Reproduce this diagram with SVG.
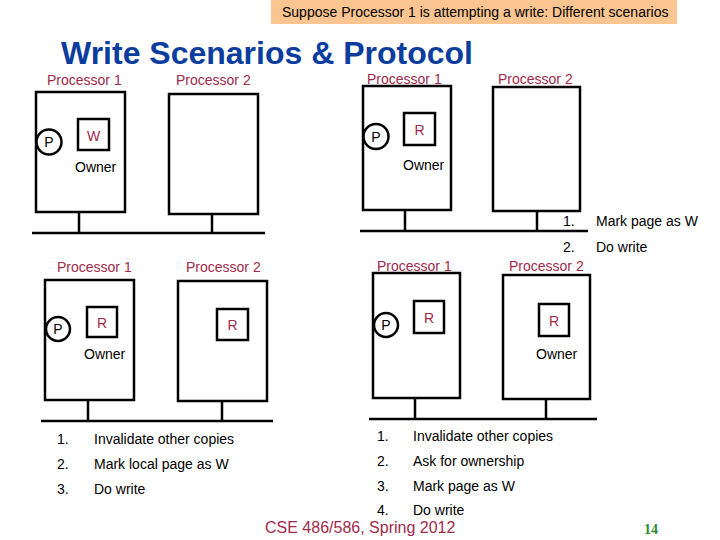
<svg xmlns="http://www.w3.org/2000/svg" width="720" height="540" viewBox="0 0 720 540">
<style>
text{font-family:"Liberation Sans",Arial,sans-serif;font-size:14px;fill:#000}
.lbl{fill:#A02A4C}
.pg{fill:#A02A4C;text-anchor:middle}
.pc{text-anchor:middle}
.box{fill:#fff;stroke:#000;stroke-width:2.5}
.cir{fill:#fff;stroke:#000;stroke-width:2.5}
.ln{stroke:#000;stroke-width:2.5;fill:none}
</style>
<rect width="720" height="540" fill="#fff"/>
<g id="banner">
<rect x="271" y="0" width="406" height="24" fill="#FAC591"/>
<text x="282" y="17">Suppose Processor 1 is attempting a write: Different scenarios</text>
</g>
<text x="61" y="64" style="font-size:32px;font-weight:bold;fill:#0B3D9E">Write Scenarios &amp; Protocol</text>

<g id="connectors">
<path class="ln" d="M79 212V233M212 214V233M32 233H265"/>
<path class="ln" d="M405 210V231M537 211V231M360 231H588"/>
<path class="ln" d="M88 400V421M222 401V421M41 421H273"/>
<path class="ln" d="M415 398V419M546 399V419M369 419H597"/>
</g>

<!-- Scenario 1 -->
<g id="s1-proc1">
<text class="lbl" x="47" y="85">Processor 1</text>
<rect class="box" x="36" y="92" width="89" height="120"/>
<text x="75" y="172">Owner</text>
</g>
<g id="s1-page1">
<rect class="box" x="78" y="119" width="31" height="31"/>
<text class="pg" x="93.5" y="141">W</text>
</g>
<g id="s1-p">
<circle class="cir" cx="49" cy="142" r="12.5"/>
<text class="pc" x="49" y="147">P</text>
</g>
<g id="s1-proc2">
<text class="lbl" x="176" y="85">Processor 2</text>
<rect class="box" x="169" y="94" width="89" height="120"/>
</g>

<!-- Scenario 2 -->
<g id="s2-proc1">
<text class="lbl" x="367" y="84">Processor 1</text>
<rect class="box" x="363" y="86" width="88" height="124"/>
<text x="403" y="170">Owner</text>
</g>
<g id="s2-page1">
<rect class="box" x="404" y="113" width="31" height="32"/>
<text class="pg" x="419.5" y="135">R</text>
</g>
<g id="s2-p">
<circle class="cir" cx="376" cy="136.5" r="12.5"/>
<text class="pc" x="376" y="141.5">P</text>
</g>
<g id="s2-proc2">
<text class="lbl" x="498" y="84">Processor 2</text>
<rect class="box" x="493" y="87" width="87" height="124"/>
</g>
<g id="s2-steps">
<text x="563" y="226">1.</text><text x="596" y="226">Mark page as W</text>
<text x="563" y="252">2.</text><text x="596" y="252">Do write</text>
</g>

<!-- Scenario 3 -->
<g id="s3-proc1">
<text class="lbl" x="57" y="272">Processor 1</text>
<rect class="box" x="45" y="280" width="89" height="120"/>
<text x="84" y="359">Owner</text>
</g>
<g id="s3-page1">
<rect class="box" x="87" y="307" width="30" height="30"/>
<text class="pg" x="102" y="328">R</text>
</g>
<g id="s3-p">
<circle class="cir" cx="58" cy="329" r="12"/>
<text class="pc" x="58" y="334">P</text>
</g>
<g id="s3-proc2">
<text class="lbl" x="186" y="272">Processor 2</text>
<rect class="box" x="178" y="281" width="89" height="120"/>
</g>
<g id="s3-page2">
<rect class="box" x="217" y="309" width="31" height="31"/>
<text class="pg" x="232.5" y="330">R</text>
</g>
<g id="s3-steps">
<text x="57" y="444">1.</text><text x="94" y="444">Invalidate other copies</text>
<text x="57" y="469">2.</text><text x="94" y="469">Mark local page as W</text>
<text x="57" y="494">3.</text><text x="94" y="494">Do write</text>
</g>

<!-- Scenario 4 -->
<g id="s4-proc1">
<text class="lbl" x="377" y="271">Processor 1</text>
<rect class="box" x="373" y="273" width="87" height="125"/>
</g>
<g id="s4-page1">
<rect class="box" x="414" y="301" width="30" height="32"/>
<text class="pg" x="429" y="323">R</text>
</g>
<g id="s4-p">
<circle class="cir" cx="386" cy="325" r="12"/>
<text class="pc" x="386" y="330">P</text>
</g>
<g id="s4-proc2">
<text class="lbl" x="509" y="271">Processor 2</text>
<rect class="box" x="503" y="275" width="87" height="124"/>
<text x="536" y="359">Owner</text>
</g>
<g id="s4-page2">
<rect class="box" x="539" y="304" width="30" height="32"/>
<text class="pg" x="554" y="326">R</text>
</g>
<g id="s4-steps">
<text x="377" y="441">1.</text><text x="413" y="441">Invalidate other copies</text>
<text x="377" y="466">2.</text><text x="413" y="466">Ask for ownership</text>
<text x="377" y="491">3.</text><text x="413" y="491">Mark page as W</text>
<text x="377" y="515">4.</text><text x="413" y="515">Do write</text>
</g>

<text x="265" y="533" style="font-size:16px;fill:#A02A4C">CSE 486/586, Spring 2012</text>
<text x="644" y="534" style="font-family:'Liberation Serif','Times New Roman',serif;font-weight:bold;font-size:14px;fill:#2E8B2E">14</text>
</svg>
